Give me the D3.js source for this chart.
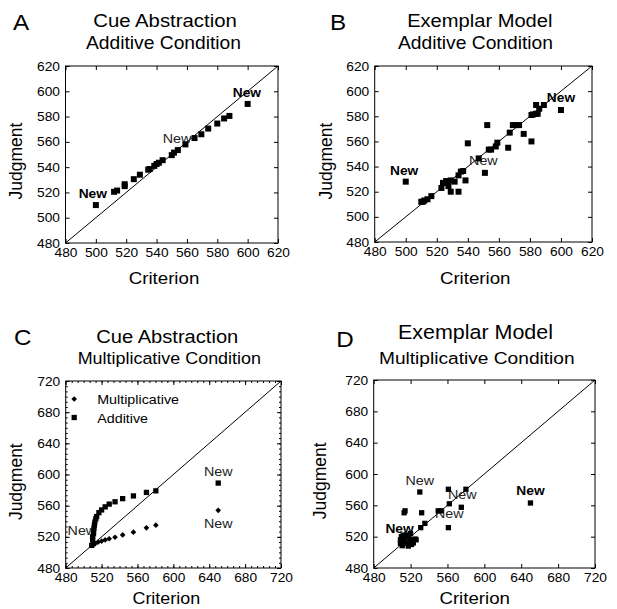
<!DOCTYPE html>
<html>
<head>
<meta charset="utf-8">
<script src="https://cdn.jsdelivr.net/npm/d3@7"></script>
<style>
  body { margin: 0; background: #fff; }
  text { font-family: "Liberation Sans", Arial, sans-serif; fill: #000; }
</style>
</head>
<body>
<script>
const WIDTH = 617;
const HEIGHT = 609;
const FONT = '"Liberation Sans", Arial, sans-serif';
const SX = 1.1; // the original figure is a little stretched sideways

// A: cue abstraction, additive condition
const aCriterion = [500, 512, 514, 519, 519, 525, 529, 534.5, 535.5, 538.5, 540, 541.5, 544, 550, 551.5, 554, 559, 565, 569.5, 574, 580, 584.5, 588, 600];
const aJudgment = [510, 520.5, 521.5, 525, 526.5, 530.5, 534, 538, 538.5, 541, 542.5, 543.5, 545.5, 549.5, 551.5, 553.5, 558, 563, 566, 570.5, 574.5, 578.5, 580.5, 590];
const aNew = [[498, 515.5, 'bold'], [553.5, 559, 'normal'], [599.5, 595.5, 'bold']];

// B: exemplar model, additive condition
const bCriterion = [500, 510, 511, 512, 514, 516.5, 523, 524, 526, 527.5, 529, 531.5, 529, 534, 534, 535.5, 537, 538.5, 540, 547, 551, 552.5, 553.5, 555, 558, 559, 566, 567, 569, 571, 573, 576, 581, 581, 582, 584, 585, 584, 586, 589, 600];
const bJudgment = [528, 512, 512, 513, 514, 516.5, 523, 527, 528.5, 524.5, 529, 528, 520, 520, 533, 536, 536.5, 529, 558.5, 546.5, 535, 573, 553.5, 553.5, 556, 559, 555, 567, 573, 573, 573, 566, 560, 581, 581.5, 582, 582, 589, 586, 589, 585];
const bNew = [[499, 533.5, 'bold'], [550, 541.5, 'normal'], [600, 591.5, 'bold']];

// C: cue abstraction, multiplicative condition (two rules)
const cAddCriterion = [509, 511, 510, 510, 511, 511, 511.5, 512, 512.5, 513.5, 514.5, 517, 520, 524, 528.5, 535, 543.5, 555.5, 570, 580.5, 650];
const cAddJudgment = [509, 511.5, 516, 520, 524, 527, 531, 535, 539, 543, 546, 551, 554.5, 558.5, 562, 565, 569, 572.5, 577, 579, 589];
const cMulCriterion = [510, 512.5, 516, 520, 524, 528.5, 535, 543.5, 555.5, 570, 580.5, 650];
const cMulJudgment = [510, 511, 513, 514.5, 516, 517.5, 519.5, 522.5, 526, 531.5, 535, 554];
const cNew = [[498, 522, 'normal'], [650, 598.5, 'normal'], [650, 531.5, 'normal']];
const cLegend = ['Multiplicative', 'Additive'];

// D: exemplar model, multiplicative condition
const dCriterion = [509, 509, 510, 511, 512, 514, 516, 517.5, 519.5, 521, 516, 512, 522, 525, 523, 518, 520, 526, 513, 514, 532, 531, 535.5, 530, 550, 553, 561, 562, 561, 575, 580, 650];
const dJudgment = [511.5, 516, 520, 508.5, 513.5, 518, 511.5, 508, 516, 510, 522, 522, 516, 517, 512, 520, 524, 516, 550.5, 553, 550.5, 531.5, 537, 577, 553, 553, 531.5, 562, 580.5, 557.5, 580.5, 563];
const dNew = [[508, 524.5, 'bold'], [530, 586, 'normal'], [576, 568, 'normal'], [562, 543.5, 'normal'], [650, 573, 'bold']];

const TICKS_A = d3.range(480, 621, 20);
const TICKS_C = d3.range(480, 721, 40);

const svg = d3.select('body').append('svg')
  .attr('width', WIDTH)
  .attr('height', HEIGHT);

const put = (g, str, x, y, o = {}) =>
  g.append('text')
    .attr('transform', o.rot
      ? `translate(${x},${y}) rotate(-90)`
      : `translate(${x},${y}) scale(${o.sx || SX},1)`)
    .attr('text-anchor', o.anchor || 'middle')
    .attr('font-size', o.size || 13)
    .attr('font-weight', o.weight || 'normal')
    .text(str);

const panels = [
  {
    letter: 'A', title: 'Cue Abstraction', sub: 'Additive Condition',
    left: 65.5, right: 278, top: 66, bottom: 243, ticks: TICKS_A,
    letterPos: [13, 30], titlePos: [165, 27, 18.5], subPos: [163.5, 48.5, 17.5],
    xLab: [164, 284, 17], yLab: [21.7, 161],
    series: [{ crit: aCriterion, judg: aJudgment, shape: 'square', size: 36 }],
    labels: aNew
  },
  {
    letter: 'B', title: 'Exemplar Model', sub: 'Additive Condition',
    left: 374.7, right: 592, top: 66, bottom: 242, ticks: TICKS_A,
    letterPos: [330, 30], titlePos: [479.8, 27, 18.3], subPos: [475.5, 48.5, 17.5],
    xLab: [475.2, 284, 17], yLab: [332.3, 161],
    series: [{ crit: bCriterion, judg: bJudgment, shape: 'square', size: 36 }],
    labels: bNew
  },
  {
    letter: 'C', title: 'Cue Abstraction', sub: 'Multiplicative Condition',
    left: 65.7, right: 281, top: 381, bottom: 568, ticks: TICKS_C, minor: 6,
    letterPos: [14, 345], titlePos: [167.3, 343.3, 18.3], subPos: [169.3, 364.3, 16.3],
    xLab: [166.3, 604, 16.3], yLab: [21.7, 481.7],
    series: [
      { crit: cMulCriterion, judg: cMulJudgment, shape: 'diamond', size: 16, name: cLegend[0] },
      { crit: cAddCriterion, judg: cAddJudgment, shape: 'square', size: 28, name: cLegend[1] }
    ],
    labels: cNew, legend: true
  },
  {
    letter: 'D', title: 'Exemplar Model', sub: 'Multiplicative Condition',
    left: 373.7, right: 595, top: 380, bottom: 568, ticks: TICKS_C,
    letterPos: [336.3, 346.7], titlePos: [475.5, 339.3, 19.5], subPos: [476.8, 364.3, 17.4],
    xLab: [474.7, 604, 17], yLab: [326.3, 480.8],
    series: [{ crit: dCriterion, judg: dJudgment, shape: 'square', size: 28 }],
    labels: dNew
  }
];

const symbolFor = s => d3.symbol(d3.symbolSquare, s.size)();
const rotFor = s => (s.shape === 'diamond' ? ' rotate(45)' : '');

panels.forEach(p => {
  const g = svg.append('g');
  const dom = d3.extent(p.ticks);
  const x = d3.scaleLinear().domain(dom).range([p.left, p.right]);
  const y = d3.scaleLinear().domain(dom).range([p.bottom, p.top]);

  const styleAxis = sel => {
    sel.attr('font-family', FONT).attr('font-size', 12.5).attr('color', '#000');
    sel.select('.domain').remove();
    sel.selectAll('text').attr('transform', `scale(${SX},1)`);
  };

  g.append('g').attr('transform', `translate(0,${p.bottom})`)
    .call(d3.axisBottom(x).tickValues(p.ticks).tickSize(-4).tickSizeOuter(0).tickPadding(5))
    .call(styleAxis);
  g.append('g').attr('transform', `translate(${p.left},0)`)
    .call(d3.axisLeft(y).tickValues(p.ticks).tickSize(-4).tickSizeOuter(0).tickPadding(5))
    .call(styleAxis);
  g.append('g').attr('transform', `translate(0,${p.top})`)
    .call(d3.axisTop(x).tickValues(p.ticks).tickSize(-4).tickSizeOuter(0).tickFormat(''))
    .call(styleAxis);
  g.append('g').attr('transform', `translate(${p.right},0)`)
    .call(d3.axisRight(y).tickValues(p.ticks).tickSize(-4).tickSizeOuter(0).tickFormat(''))
    .call(styleAxis);

  if (p.minor) {
    const step = (p.ticks[1] - p.ticks[0]) / p.minor;
    const minor = d3.range(dom[0], dom[1] + 0.01, step);
    [
      [d3.axisBottom(x), `translate(0,${p.bottom})`],
      [d3.axisTop(x), `translate(0,${p.top})`],
      [d3.axisLeft(y), `translate(${p.left},0)`],
      [d3.axisRight(y), `translate(${p.right},0)`]
    ].forEach(([ax, tr]) => {
      g.append('g').attr('transform', tr)
        .call(ax.tickValues(minor).tickSize(-2).tickSizeOuter(0).tickFormat(''))
        .call(styleAxis);
    });
  }

  g.append('rect')
    .attr('x', p.left).attr('y', p.top)
    .attr('width', p.right - p.left).attr('height', p.bottom - p.top)
    .attr('fill', 'none').attr('stroke', '#000').attr('stroke-width', 1);

  g.append('line')
    .attr('x1', x(dom[0])).attr('y1', y(dom[0]))
    .attr('x2', x(dom[1])).attr('y2', y(dom[1]))
    .attr('stroke', '#000').attr('stroke-width', 1);

  // "New" labels go under the markers
  p.labels.forEach(([cx, cy, w]) => {
    put(g, 'New', x(cx), y(cy), {
      size: w === 'bold' ? 12.5 : 13,
      weight: w,
      sx: SX
    }).style('fill', w === 'bold' ? '#000' : '#222');
  });

  p.series.forEach(s => {
    g.append('g').selectAll('path')
      .data(d3.zip(s.crit, s.judg))
      .join('path')
      .attr('transform', d => `translate(${x(d[0])},${y(d[1])})${rotFor(s)}`)
      .attr('d', symbolFor(s))
      .attr('fill', '#000');
  });

  if (p.legend) {
    p.series.forEach((s, i) => {
      const ly = p.top + 18 + i * 18.5;
      g.append('path')
        .attr('transform', `translate(${p.left + 8.5},${ly})${rotFor(s)}`)
        .attr('d', symbolFor(s))
        .attr('fill', '#000');
      put(g, s.name, p.left + 31.5, ly + 5, { anchor: 'start', size: 13 });
    });
  }

  put(g, p.letter, p.letterPos[0], p.letterPos[1], { anchor: 'start', size: 22 });
  put(g, p.title, p.titlePos[0], p.titlePos[1], { size: p.titlePos[2] });
  put(g, p.sub, p.subPos[0], p.subPos[1], { size: p.subPos[2] });
  put(g, 'Criterion', p.xLab[0], p.xLab[1], { size: p.xLab[2] });
  put(g, 'Judgment', p.yLab[0], p.yLab[1], { size: 17.5, rot: true });
});
</script>
</body>
</html>
